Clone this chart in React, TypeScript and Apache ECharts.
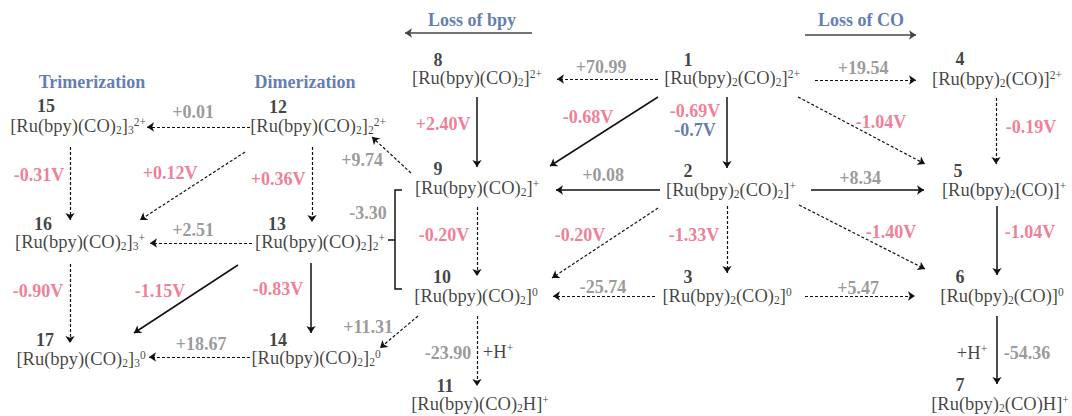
import React, { useEffect, useRef } from "react";
import * as echarts from "echarts";

// ---------------- data ----------------
const speciesIds = ["1", "2", "3", "4", "5", "6", "7", "8", "9", "10", "11", "12", "13", "14", "15", "16", "17"];
const speciesFormulas = [
  "[Ru(bpy){sb|2}(CO){sb|2}]{sp|2+}",
  "[Ru(bpy){sb|2}(CO){sb|2}]{sp|+}",
  "[Ru(bpy){sb|2}(CO){sb|2}]{sp|0}",
  "[Ru(bpy){sb|2}(CO)]{sp|2+}",
  "[Ru(bpy){sb|2}(CO)]{sp|+}",
  "[Ru(bpy){sb|2}(CO)]{sp|0}",
  "[Ru(bpy){sb|2}(CO)H]{sp|+}",
  "[Ru(bpy)(CO){sb|2}]{sp|2+}",
  "[Ru(bpy)(CO){sb|2}]{sp|+}",
  "[Ru(bpy)(CO){sb|2}]{sp|0}",
  "[Ru(bpy)(CO){sb|2}H]{sp|+}",
  "[Ru(bpy)(CO){sb|2}]{sb|2}{sp|2+}",
  "[Ru(bpy)(CO){sb|2}]{sb|2}{sp|+}",
  "[Ru(bpy)(CO){sb|2}]{sb|2}{sp|0}",
  "[Ru(bpy)(CO){sb|2}]{sb|3}{sp|2+}",
  "[Ru(bpy)(CO){sb|2}]{sb|3}{sp|+}",
  "[Ru(bpy)(CO){sb|2}]{sb|3}{sp|0}",
];

// transitions: from -> to, value, kind ("V" = redox potential, "G" = free energy), solid?
const edgeFrom = [1, 1, 1, 1, 1, 4, 8, 2, 2, 2, 2, 2, 5, 9, 9, 3, 3, 6, 10, 10, 12, 12, 12, 15, 13, 13, 13, 16, 14];
const edgeTo = [8, 4, 9, 2, 5, 5, 9, 9, 5, 3, 10, 6, 6, 10, 12, 10, 6, 7, 11, 14, 15, 13, 16, 16, 16, 14, 17, 17, 17];
const edgeValues = [
  "+70.99", "+19.54", "-0.68V", "-0.69V", "-1.04V", "-0.19V", "+2.40V", "+0.08", "+8.34", "-1.33V",
  "-0.20V", "-1.40V", "-1.04V", "-0.20V", "+9.74", "-25.74", "+5.47", "-54.36", "-23.90", "+11.31",
  "+0.01", "+0.36V", "+0.12V", "-0.31V", "+2.51", "-0.83V", "-1.15V", "-0.90V", "+18.67",
];
const edgeKind = [
  "G", "G", "V", "V", "V", "V", "V", "G", "G", "V",
  "V", "V", "V", "V", "G", "G", "G", "G", "G", "G",
  "G", "V", "V", "V", "G", "V", "V", "V", "G",
];
const edgeSolid = [
  false, false, true, true, false, false, true, true, true, false,
  false, false, true, false, false, false, false, true, false, false,
  false, false, false, false, false, true, true, false, false,
];

const experimentalValue = "-0.7V"; // for 1 -> 2
const dimerBracketValue = "-3.30"; // 9 + 10 -> 13
const protonationText = "+H{sp|+}";
const headings = ["Loss of bpy", "Loss of CO", "Trimerization", "Dimerization"];

// ---------------- layout (scheme coordinates) ----------------
const speciesPos = [
  [732, 78], [731, 190], [727, 296], [997, 79], [1004, 190], [1002, 296], [1000, 404],
  [477, 78], [477, 188], [476, 296], [480, 404],
  [318, 126], [320, 242], [316, 358], [78, 126], [80, 242], [81, 359],
];
const speciesNumPos = [
  [688, 60], [688, 171], [688, 277], [960, 59], [958, 171], [960, 277], [960, 385],
  [438, 60], [438, 169], [442, 277], [445, 386],
  [278, 107], [277, 224], [278, 340], [46, 106], [43, 224], [45, 340],
];
const edgePaths = [
  [[658, 79], [557, 79]], [[815, 80], [916, 80]], [[658, 97], [550, 166]], [[727, 97], [727, 168]],
  [[798, 97], [925, 164]], [[996, 98], [996, 164]], [[477, 97], [477, 167]], [[660, 190], [556, 190]],
  [[811, 190], [924, 190]], [[727, 206], [727, 273]], [[658, 208], [552, 278]], [[799, 205], [925, 269]],
  [[997, 206], [997, 275]], [[477, 207], [477, 276]], [[411, 173], [372, 137]], [[655, 296], [553, 296]],
  [[805, 296], [915, 296]], [[997, 316], [997, 384]], [[477, 316], [477, 386]], [[418, 316], [380, 348]],
  [[250, 127], [147, 127]], [[312, 147], [312, 222]], [[245, 152], [140, 220]], [[70, 147], [70, 220]],
  [[252, 243], [150, 243]], [[311, 263], [311, 333]], [[238, 265], [134, 333]], [[70, 264], [70, 343]],
  [[250, 357], [149, 357]],
];
const edgeLabelPos = [
  [601, 67], [863, 68], [588, 117], [695, 111], [881, 122], [1031, 127], [443, 124], [603, 175],
  [860, 178], [694, 235], [580, 235], [891, 232], [1030, 232], [444, 235], [362, 160], [603, 287],
  [858, 288], [1027, 353], [448, 353], [368, 327], [193, 112], [278, 179], [170, 173], [39, 175],
  [193, 230], [278, 289], [160, 291], [38, 291], [201, 344],
];
const experimentalPos = [695, 130];
const bracketPath = [[402, 190], [395, 190], [395, 289], [402, 289]];
const bracketTick = [[388, 240], [395, 240]];
const bracketLabelPos = [368, 213];
const protonationPos = [[972, 353], [498, 352]];
const headingPos = [[472, 20], [861, 20], [92, 82], [305, 82]];
const headingArrows = [[[532, 33], [405, 33]], [[805, 35], [916, 35]]];

// ---------------- styles ----------------
const FONT = "'Liberation Serif', 'Times New Roman', serif";
const RED = "#EC5C7A";
const GRAY = "#808080";
const BLUE = "#3A5A9C";

export default function App() {
  const ref = useRef<HTMLDivElement>(null);

  useEffect(() => {
    document.body.style.margin = "0";
    if (!ref.current) return;
    const chart = echarts.init(ref.current, undefined, { renderer: "svg" });

    const solidLines: any[] = [];
    const dashedLines: any[] = [];
    edgeFrom.forEach((f, i) => {
      const item = { coords: edgePaths[i], name: `${f}->${edgeTo[i]}` };
      (edgeSolid[i] ? solidLines : dashedLines).push(item);
    });

    const richSubSup = {
      sb: { fontSize: 11.5, fontFamily: FONT, lineHeight: 7, verticalAlign: "bottom", color: "#111" },
      sp: { fontSize: 11.5, fontFamily: FONT, lineHeight: 12, verticalAlign: "top", color: "#111" },
    };

    const textSeries = (name: string, data: any[], label: any) => ({
      type: "scatter",
      name,
      symbolSize: 1,
      itemStyle: { color: "rgba(0,0,0,0)" },
      silent: true,
      z: 5,
      data,
      label: {
        show: true,
        position: "inside",
        formatter: (p: any) => p.data.text,
        ...label,
      },
    });

    const arrowBase = {
      type: "lines",
      coordinateSystem: "cartesian2d",
      symbol: ["none", "arrow"],
      symbolSize: 7,
      silent: true,
    };

    const option: any = {
      animation: false,
      backgroundColor: "#ffffff",
      grid: { left: 0, right: 0, top: 0, bottom: 0 },
      xAxis: { type: "value", min: 0, max: 1072, show: false },
      yAxis: { type: "value", min: 0, max: 416, inverse: true, show: false },
      series: [
        {
          ...arrowBase,
          name: "solid transitions",
          lineStyle: { color: "#111", width: 1.5, type: "solid", opacity: 1 },
          data: solidLines,
        },
        {
          ...arrowBase,
          name: "dashed transitions",
          lineStyle: { color: "#111", width: 1.2, type: [3, 2], opacity: 1 },
          data: dashedLines,
        },
        {
          ...arrowBase,
          name: "heading arrows",
          lineStyle: { color: "#444", width: 1.5, type: "solid", opacity: 1 },
          data: headingArrows.map((c) => ({ coords: c })),
        },
        {
          type: "lines",
          coordinateSystem: "cartesian2d",
          polyline: true,
          symbol: "none",
          silent: true,
          lineStyle: { color: "#111", width: 1.5, opacity: 1 },
          data: [{ coords: bracketPath }, { coords: bracketTick }],
        },
        textSeries(
          "formulas",
          speciesFormulas.map((t, i) => ({ value: speciesPos[i], text: t })),
          {
            fontFamily: FONT,
            fontSize: 18.5,
            lineHeight: 20,
            color: "#111",
            rich: richSubSup,
          }
        ),
        textSeries(
          "numbers",
          speciesIds.map((t, i) => ({ value: speciesNumPos[i], text: t })),
          { fontFamily: FONT, fontSize: 18, lineHeight: 14, fontWeight: "bold", color: "#111" }
        ),
        textSeries(
          "values",
          edgeValues.map((t, i) => ({
            value: edgeLabelPos[i],
            text: t,
            label: { color: edgeKind[i] === "V" ? RED : GRAY },
          })),
          { fontFamily: FONT, fontSize: 18, fontWeight: "bold" }
        ),
        textSeries(
          "extra values",
          [
            { value: experimentalPos, text: experimentalValue, label: { color: BLUE } },
            { value: bracketLabelPos, text: dimerBracketValue, label: { color: GRAY } },
          ],
          { fontFamily: FONT, fontSize: 18, fontWeight: "bold" }
        ),
        textSeries(
          "protonation",
          protonationPos.map((p) => ({ value: p, text: protonationText })),
          { fontFamily: FONT, fontSize: 18.5, lineHeight: 20, color: "#111", rich: richSubSup }
        ),
        textSeries(
          "headings",
          headings.map((t, i) => ({ value: headingPos[i], text: t })),
          { fontFamily: FONT, fontSize: 18, fontWeight: "bold", color: BLUE }
        ),
      ],
    };

    chart.setOption(option);
    return () => chart.dispose();
  }, []);

  return <div ref={ref} style={{ width: 1072, height: 416, background: "#fff" }} />;
}
